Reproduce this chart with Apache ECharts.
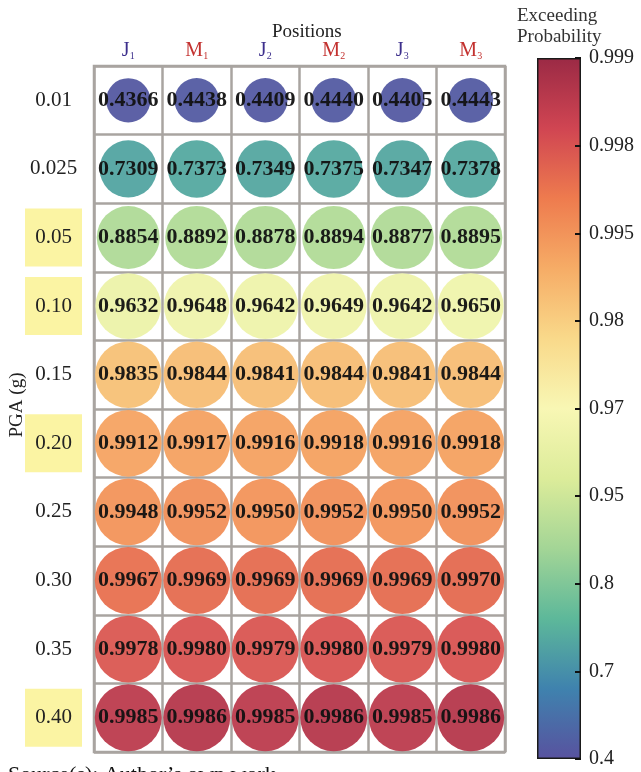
<!DOCTYPE html>
<html>
<head>
<meta charset="utf-8">
<script src="https://cdn.jsdelivr.net/npm/echarts@6/dist/echarts.min.js"></script>
<style>
  html, body { margin: 0; padding: 0; background: #fff; }
  #chart { width: 641px; height: 772px; }
</style>
</head>
<body>
<div id="chart"></div>
<script>
// PGA rows (top to bottom) and positions (columns)
var pgaLevels = ['0.01', '0.025', '0.05', '0.10', '0.15', '0.20', '0.25', '0.30', '0.35', '0.40'];
var highlighted = ['0.05', '0.10', '0.20', '0.40'];
var positions = ['J1', 'M1', 'J2', 'M2', 'J3', 'M3'];

// exceeding probability per position, one value per PGA row
var valJ1 = [0.4366, 0.7309, 0.8854, 0.9632, 0.9835, 0.9912, 0.9948, 0.9967, 0.9978, 0.9985];
var valM1 = [0.4438, 0.7373, 0.8892, 0.9648, 0.9844, 0.9917, 0.9952, 0.9969, 0.9980, 0.9986];
var valJ2 = [0.4409, 0.7349, 0.8878, 0.9642, 0.9841, 0.9916, 0.9950, 0.9969, 0.9979, 0.9985];
var valM2 = [0.4440, 0.7375, 0.8894, 0.9649, 0.9844, 0.9918, 0.9952, 0.9969, 0.9980, 0.9986];
var valJ3 = [0.4405, 0.7347, 0.8877, 0.9642, 0.9841, 0.9916, 0.9950, 0.9969, 0.9979, 0.9985];
var valM3 = [0.4443, 0.7378, 0.8895, 0.9650, 0.9844, 0.9918, 0.9952, 0.9970, 0.9980, 0.9986];

// colour bar tick values (non-linear scale, equally spaced)
var cbTicks = [0.4, 0.7, 0.8, 0.95, 0.97, 0.98, 0.995, 0.998, 0.999];

var columns = [valJ1, valM1, valJ2, valM2, valJ3, valM3];
var serif = 'Liberation Serif, Times New Roman, serif';
// muted Spectral (reversed)
var spectral = ['#58529f', '#3f82ae', '#5db89a', '#a3d596', '#dcec9a', '#f8f7b4',
                '#f9d98a', '#f6ac66', '#ee7b4e', '#d04552', '#9b2a45'];

// position of a value on the piecewise colour bar scale (0..8)
function scalePos(v) {
    for (var k = 0; k < cbTicks.length - 1; k++) {
        if (v <= cbTicks[k + 1]) {
            return k + (v - cbTicks[k]) / (cbTicks[k + 1] - cbTicks[k]);
        }
    }
    return cbTicks.length - 1;
}

var points = [];
columns.forEach(function (col, j) {
    col.forEach(function (v, i) {
        points.push([j, i, scalePos(v), v]);
    });
});

var chart = echarts.init(document.getElementById('chart'));

var option = {
    backgroundColor: '#fff',
    animation: false,
    grid: [
        {left: 94, top: 66, width: 411, height: 686, show: true, outerBoundsMode: 'none',
         borderColor: '#a9a4a0', borderWidth: 2.5, backgroundColor: '#fff'},
        {left: 537, top: 58, width: 44, height: 701, outerBoundsMode: 'none'}
    ],
    xAxis: [
        {
            gridIndex: 0,
            type: 'category',
            position: 'top',
            data: positions,
            axisLine: {show: false},
            axisTick: {show: false},
            splitLine: {show: true, interval: 0, lineStyle: {color: '#a9a4a0', width: 2.5}},
            axisLabel: {
                margin: 5,
                interval: 0,
                formatter: function (p) {
                    var s = p.charAt(0) === 'J' ? 'j' : 'm';
                    return '{' + s + '|' + p.charAt(0) + '}{' + s + 's|' + p.charAt(1) + '}';
                },
                rich: {
                    j: {color: '#3d2f8c', fontFamily: serif, fontSize: 20, lineHeight: 20},
                    js: {color: '#3d2f8c', fontFamily: serif, fontSize: 10, lineHeight: 10, verticalAlign: 'bottom'},
                    m: {color: '#c3312f', fontFamily: serif, fontSize: 20, lineHeight: 20},
                    ms: {color: '#c3312f', fontFamily: serif, fontSize: 10, lineHeight: 10, verticalAlign: 'bottom'}
                }
            }
        },
        {
            gridIndex: 1,
            type: 'category',
            data: ['cb'],
            show: false
        }
    ],
    yAxis: [
        {
            gridIndex: 0,
            type: 'category',
            inverse: true,
            data: pgaLevels,
            axisLine: {show: false},
            axisTick: {show: false},
            splitLine: {show: true, interval: 0, lineStyle: {color: '#a9a4a0', width: 2.5}},
            axisLabel: {
                margin: 12,
                interval: 0,
                formatter: function (v) {
                    return (highlighted.indexOf(v) >= 0 ? '{hl|' : '{n|') + v + '}';
                },
                rich: {
                    hl: {backgroundColor: '#fbf4a3', width: 57, height: 58, align: 'center',
                         fontFamily: serif, fontSize: 21, color: '#222'},
                    n: {width: 57, height: 58, align: 'center',
                        fontFamily: serif, fontSize: 21, color: '#222'}
                }
            }
        },
        {
            gridIndex: 1,
            type: 'value',
            position: 'right',
            min: 0,
            max: cbTicks.length - 1,
            interval: 1,
            z: 5,
            axisLine: {show: false},
            axisTick: {show: true, inside: true, length: 6, lineStyle: {color: '#111', width: 2}},
            splitLine: {show: false},
            axisLabel: {
                margin: 8,
                fontFamily: serif,
                fontSize: 20,
                color: '#222',
                formatter: function (val) {
                    return String(cbTicks[Math.round(val)]);
                }
            }
        }
    ],
    visualMap: {
        type: 'continuous',
        show: false,
        seriesIndex: 0,
        dimension: 2,
        min: 0,
        max: cbTicks.length - 1,
        inRange: {color: spectral}
    },
    series: [
        {
            type: 'scatter',
            xAxisIndex: 0,
            yAxisIndex: 0,
            data: points,
            symbolSize: function (d) { return 67 * Math.sqrt(d[3]); },
            itemStyle: {opacity: 0.95},
            label: {
                show: true,
                position: 'inside',
                fontFamily: serif,
                fontWeight: 'bold',
                fontSize: 22,
                color: '#111',
                formatter: function (p) { return p.value[3].toFixed(4); }
            },
            silent: true,
            z: 3
        },
        {
            type: 'bar',
            xAxisIndex: 1,
            yAxisIndex: 1,
            data: [cbTicks.length - 1],
            barWidth: '100%',
            silent: true,
            z: 1,
            itemStyle: {
                borderColor: '#1a1a1a',
                borderWidth: 1.5,
                color: new echarts.graphic.LinearGradient(0, 1, 0, 0, spectral.map(function (c, k) {
                    return {offset: k / (spectral.length - 1), color: c};
                }))
            }
        }
    ],
    graphic: [
        {type: 'text', left: 272, top: 23,
         style: {text: 'Positions', fontFamily: serif, fontSize: 19, fill: '#222'}},
        {type: 'text', left: 517, top: 6,
         style: {text: 'Exceeding\nProbability', fontFamily: serif, fontSize: 19, lineHeight: 21, fill: '#333'}},
        {type: 'text', x: 17, y: 405, rotation: Math.PI / 2,
         style: {text: 'PGA (g)', fontFamily: serif, fontSize: 19, fill: '#222',
                 align: 'center', verticalAlign: 'middle'}},
        {type: 'text', left: 8, top: 764,
         style: {text: 'Source(s): Author\u2019s own work', fontFamily: serif, fontSize: 22, fill: '#111'}}
    ]
};

chart.setOption(option);
</script>
</body>
</html>
